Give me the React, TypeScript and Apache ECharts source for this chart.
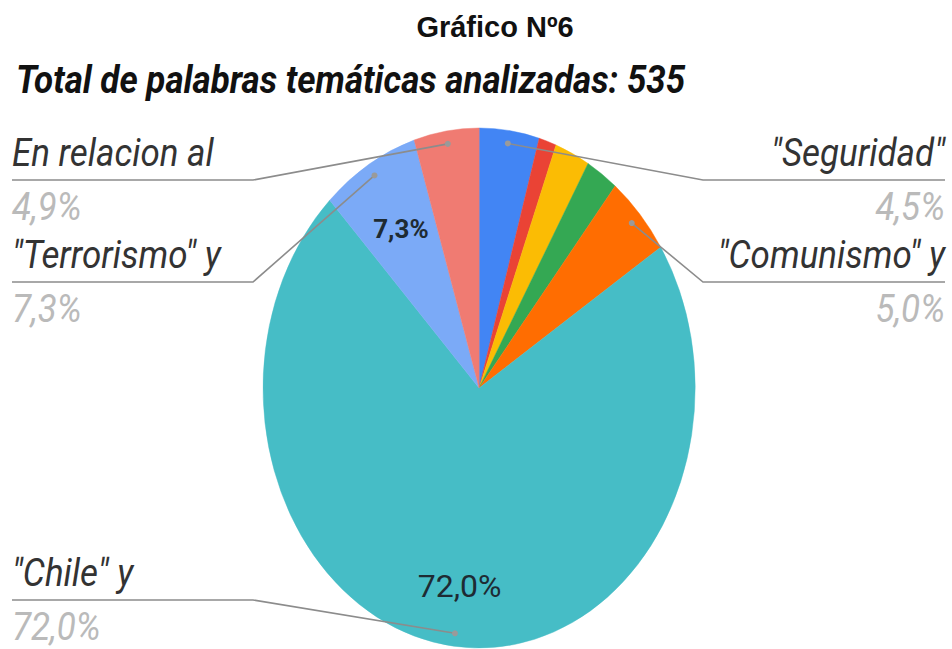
import React, { useEffect, useRef } from 'react';
import * as echarts from 'echarts';

// ---- data ----
const categories = ['"Seguridad"', 'Categoría 2', 'Categoría 3', 'Categoría 4', '"Comunismo" y', '"Chile" y', '"Terrorismo" y', 'En relacion al'];
const counts = [24, 7, 14, 13, 27, 385, 39, 26];
const colors = ['#4285F4', '#EA4335', '#FBBC04', '#34A853', '#FF6D01', '#46BDC6', '#7BAAF7', '#F07B72'];
const chartTitle = 'Gráfico Nº6';
const chartSubtitle = 'Total de palabras temáticas analizadas: 535';

// ---- layout ----
const CX = 479;
const CY = 388;
const RX = 216;
const RY = 260;
const LEFT_X = 12;
const LEFT_ELBOW = 253;
const RIGHT_X = 945;
const RIGHT_ELBOW = 703;
const labelSlots: Record<number, { side: 'left' | 'right'; y: number }> = {
  0: { side: 'right', y: 180 },
  4: { side: 'right', y: 282 },
  5: { side: 'left', y: 600 },
  6: { side: 'left', y: 282 },
  7: { side: 'left', y: 180 },
};
const INNER_MIN_PCT = 6;
const LABEL_FONT = 38;
const LABEL_SCALE_X = 0.92;

const fmt = (p: number) => p.toFixed(1).replace('.', ',') + '%';

export default function App() {
  const ref = useRef<HTMLDivElement>(null);
  useEffect(() => {
    if (!ref.current) return;
    const chart = echarts.init(ref.current, undefined, { renderer: 'svg' });
    const total = counts.reduce((a, b) => a + b, 0);

    const renderItem = (params: any, api: any) => {
      const i = params.dataIndex;
      let before = 0;
      for (let j = 0; j < i; j++) before += counts[j];
      const v = api.value(0);
      const a0 = (before / total) * Math.PI * 2;
      const a1 = ((before + v) / total) * Math.PI * 2;
      const mid = (a0 + a1) / 2;
      const pct = (v / total) * 100;
      const children: any[] = [
        {
          type: 'sector',
          shape: { cx: CX, cy: CY, r: RY, r0: 0, startAngle: a0 - Math.PI / 2, endAngle: a1 - Math.PI / 2, clockwise: true },
          originX: CX,
          originY: CY,
          scaleX: RX / RY,
          style: { fill: colors[i], stroke: colors[i], lineWidth: 0.5 },
        },
      ];
      if (pct >= INNER_MIN_PCT) {
        const big = pct > 50;
        const r = big ? 0.765 : 0.71;
        children.push({
          type: 'text',
          x: CX + r * RX * Math.sin(mid),
          y: CY - r * RY * Math.cos(mid),
          z2: 20,
          style: {
            text: fmt(pct),
            fill: '#1e2b33',
            fontFamily: 'Roboto',
            fontSize: big ? 32 : 26,
            fontWeight: big ? 'normal' : 'bold',
            align: 'center',
            verticalAlign: 'middle',
          },
        });
      }
      const slot = labelSlots[i];
      if (slot) {
        const dx = CX + 0.95 * RX * Math.sin(mid);
        const dy = CY - 0.95 * RY * Math.cos(mid);
        const left = slot.side === 'left';
        const elbow = left ? LEFT_ELBOW : RIGHT_ELBOW;
        const end = left ? LEFT_X : RIGHT_X;
        children.push({
          type: 'polyline',
          z2: 30,
          shape: { points: [[dx, dy], [elbow, slot.y], [end, slot.y]] },
          style: { stroke: '#8c8c8c', lineWidth: 1.6, fill: null },
        });
        children.push({
          type: 'circle',
          z2: 31,
          shape: { cx: dx, cy: dy, r: 3 },
          style: { fill: '#9a9a9a' },
        });
        children.push({
          type: 'text',
          z2: 30,
          x: end,
          y: slot.y - 27,
          scaleX: LABEL_SCALE_X,
          style: {
            text: categories[i],
            fill: '#333333',
            fontFamily: 'Roboto',
            fontStyle: 'italic',
            fontSize: LABEL_FONT,
            align: left ? 'left' : 'right',
            verticalAlign: 'middle',
          },
        });
        children.push({
          type: 'text',
          z2: 30,
          x: end,
          y: slot.y + 27,
          scaleX: LABEL_SCALE_X,
          style: {
            text: fmt(pct),
            fill: '#bababa',
            fontFamily: 'Roboto',
            fontStyle: 'italic',
            fontSize: LABEL_FONT,
            align: left ? 'left' : 'right',
            verticalAlign: 'middle',
          },
        });
      }
      return { type: 'group', children };
    };

    chart.setOption({
      animation: false,
      backgroundColor: '#ffffff',
      graphic: [
        {
          type: 'text',
          x: 495,
          y: 27,
          style: {
            text: chartTitle,
            fill: '#111111',
            fontFamily: 'Liberation Sans, Arial',
            fontWeight: 'bold',
            fontSize: 29,
            align: 'center',
            verticalAlign: 'middle',
          },
        },
        {
          type: 'text',
          x: 16,
          y: 80,
          scaleX: 0.92,
          style: {
            text: chartSubtitle,
            fill: '#111111',
            fontFamily: 'Roboto',
            fontWeight: 'bold',
            fontStyle: 'italic',
            fontSize: 38,
            align: 'left',
            verticalAlign: 'middle',
          },
        },
      ],
      series: [
        {
          type: 'custom',
          coordinateSystem: 'none',
          renderItem,
          data: counts.map((v, i) => ({ value: v, name: categories[i] })),
        },
      ],
    });
    return () => chart.dispose();
  }, []);
  return <div ref={ref} style={{ position: 'fixed', left: 0, top: 0, width: 952, height: 649 }} />;
}
